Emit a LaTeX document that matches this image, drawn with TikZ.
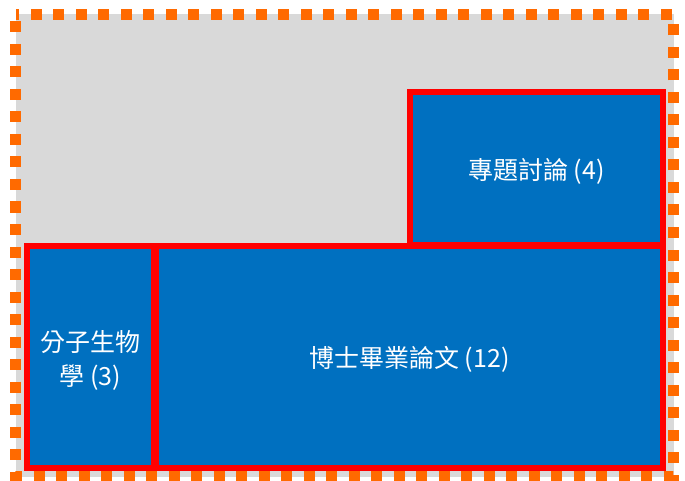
\documentclass[tikz,border=0pt]{standalone}
\usepackage{fontspec}
\newfontfamily\cjk{Noto Sans CJK TC}
\definecolor{bgray}{HTML}{D9D9D9}
\definecolor{dorange}{HTML}{FF6A00}
\definecolor{cblue}{HTML}{0070C0}
\definecolor{cred}{HTML}{FF0000}
\tikzset{
  course/.style={draw=cred, fill=cblue, line width=6pt},
  label/.style={text=white, font=\cjk\fontsize{25}{34}\selectfont, align=center, inner sep=0pt},
}
\begin{document}
\begin{tikzpicture}[x=1pt,y=-1pt]
\useasboundingbox (0,0) rectangle (685,481);
\fill[bgray] (16,14) rectangle (674,477);
\draw[dorange, line width=11pt, dash pattern=on 11pt off 11.5pt, dash phase=15.5pt]
  (15.5,14.5) rectangle (673,476);
\draw[course] (410,92) rectangle (663,245);
\draw[course] (156,246) rectangle (663,468);
\draw[course] (27,246) rectangle (154,468);
\coordinate (tr) at (536.5,171);
\coordinate (br) at (409.5,359);
\coordinate (bl) at (90.5,360);
\node[label] (t1) at (tr) {專題討論 (4)};
\node[label] (t2) at (br) {博士畢業論文 (12)};
\node[label] (t3) at (bl) {分子生物\\學 (3)};
\end{tikzpicture}
\end{document}
